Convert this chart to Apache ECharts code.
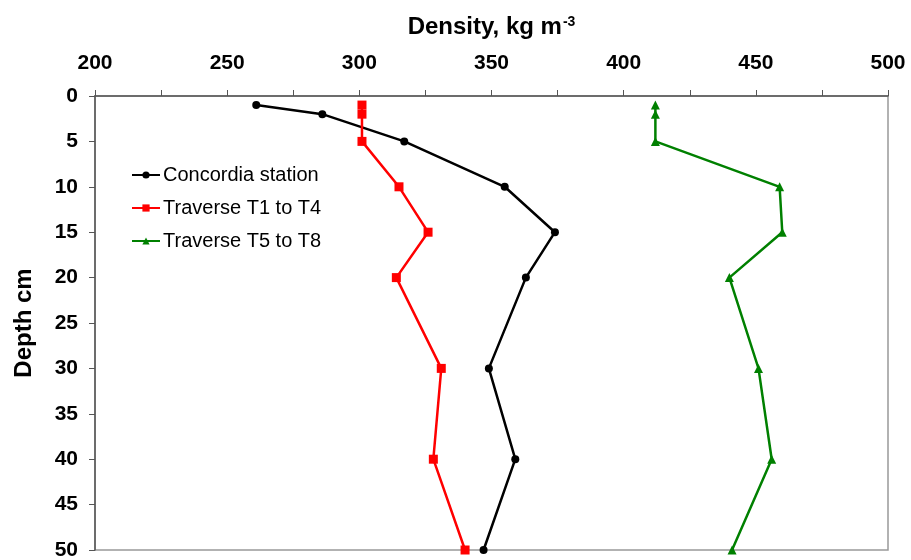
<!DOCTYPE html>
<html>
<head>
<meta charset="utf-8">
<script src="https://cdn.jsdelivr.net/npm/echarts@6/dist/echarts.min.js"></script>
<style>
  html, body { margin: 0; padding: 0; background: #fff; }
  #chart { width: 911px; height: 560px; }
</style>
</head>
<body>
<div id="chart"></div>
<script>
// Snow density profiles against depth
var depths = [1, 2, 5, 10, 15, 20, 30, 40, 50];
var concordia = [261, 286, 317, 355, 374, 363, 349, 359, 347];
var traverseT1T4 = [301, 301, 301, 315, 326, 314, 331, 328, 340];
var traverseT5T8 = [412, 412, 412, 459, 460, 440, 451, 456, 441];
var seriesNames = ['Concordia station', 'Traverse T1 to T4', 'Traverse T5 to T8'];

function pairs(values) {
  return values.map(function (v, i) { return [v, depths[i]]; });
}

var FONT = '"Liberation Sans", Arial, sans-serif';
var chart = echarts.init(document.getElementById('chart'), null, { renderer: 'canvas' });

function lineSeries(name, values, color, symbol, size) {
  return {
    name: name,
    type: 'line',
    data: pairs(values),
    symbol: symbol,
    symbolSize: size,
    showSymbol: true,
    lineStyle: { color: color, width: 2.5 },
    itemStyle: { color: color },
    emphasis: { disabled: true },
    animation: false
  };
}

chart.setOption({
  animation: false,
  backgroundColor: '#fff',
  grid: {
    left: 95, right: 23, top: 96, bottom: 10,
    show: true, borderColor: '#999', borderWidth: 1.5,
    containLabel: false,
    outerBoundsMode: 'none'
  },
  legend: {
    orient: 'vertical',
    left: 126,
    top: 160,
    itemWidth: 28,
    itemHeight: 9,
    itemGap: 13,
    data: seriesNames,
    textStyle: { fontFamily: FONT, fontSize: 20, color: '#000', padding: [0, 0, 0, -2] }
  },
  xAxis: {
    type: 'value',
    position: 'top',
    min: 200, max: 500, interval: 50,
    name: '{t|Density, kg m}{s|-3}',
    nameLocation: 'middle',
    nameGap: 56,
    nameTextStyle: {
      rich: {
        t: { fontFamily: FONT, fontSize: 24, fontWeight: 'bold', color: '#000' },
        s: { fontFamily: FONT, fontSize: 14, fontWeight: 'bold', color: '#000', verticalAlign: 'top', padding: [0, 0, 11, 1] }
      }
    },
    axisLine: { show: true, lineStyle: { color: '#555', width: 1.5 } },
    axisTick: { show: true, inside: false, length: 6, lineStyle: { color: '#555', width: 1 } },
    minorTick: { show: true, splitNumber: 2, length: 6, lineStyle: { color: '#555', width: 1 } },
    splitLine: { show: false },
    axisLabel: { fontFamily: FONT, fontSize: 21, fontWeight: 'bold', color: '#000', margin: 22 }
  },
  yAxis: {
    type: 'value',
    inverse: true,
    min: 0, max: 50, interval: 5,
    name: 'Depth cm',
    nameLocation: 'middle',
    nameGap: 59,
    nameRotate: 90,
    nameTextStyle: { fontFamily: FONT, fontSize: 24, fontWeight: 'bold', color: '#000' },
    axisLine: { show: true, lineStyle: { color: '#555', width: 1.5 } },
    axisTick: { show: true, inside: false, length: 6, lineStyle: { color: '#555', width: 1 } },
    splitLine: { show: false },
    axisLabel: { fontFamily: FONT, fontSize: 21, fontWeight: 'bold', color: '#000', margin: 17 }
  },
  series: [
    lineSeries(seriesNames[0], concordia, '#000000', 'circle', 8),
    lineSeries(seriesNames[1], traverseT1T4, '#ff0000', 'rect', 9),
    lineSeries(seriesNames[2], traverseT5T8, '#008000', 'triangle', 9)
  ]
});
</script>
</body>
</html>
